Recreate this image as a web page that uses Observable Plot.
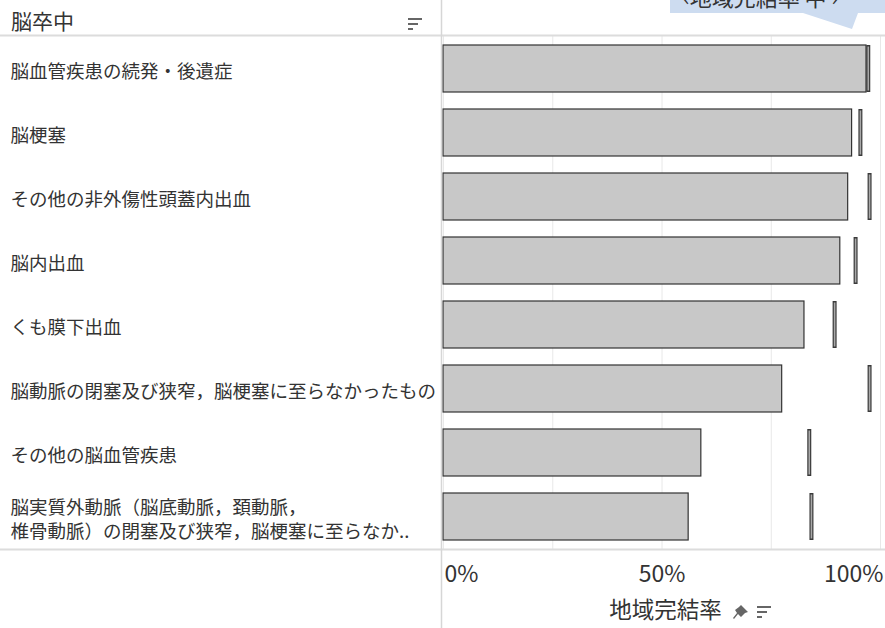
<!DOCTYPE html>
<html>
<head>
<meta charset="utf-8">
<script src="https://cdn.jsdelivr.net/npm/d3@7"></script>
<script src="https://cdn.jsdelivr.net/npm/@observablehq/plot@0.6"></script>
<style>
  html, body { margin: 0; padding: 0; background: #fff; }
  #chart { width: 885px; height: 628px; overflow: hidden; }
</style>
</head>
<body>
<div id="chart"></div>
<script>
const categories = [
  "脳血管疾患の続発・後遺症",
  "脳梗塞",
  "その他の非外傷性頭蓋内出血",
  "脳内出血",
  "くも膜下出血",
  "脳動脈の閉塞及び狭窄，脳梗塞に至らなかったもの",
  "その他の脳血管疾患",
  "脳実質外動脈（脳底動脈，頚動脈，\n椎骨動脈）の閉塞及び狭窄，脳梗塞に至らなか.."
];
const completionRate = [96.8, 93.5, 92.6, 90.8, 82.6, 77.5, 59.0, 56.1];
const referenceRate = [97.2, 95.4, 97.5, 94.3, 89.5, 97.5, 83.7, 84.2];
const xTicks = [0, 50, 100];
const gridTicks = [0, 25, 50, 75, 100];
const headerTitle = "脳卒中";
const axisTitle = "地域完結率";
const tooltipText = "‹地域完結率 中 ›";

const data = categories.map((name, i) => ({name, v: completionRate[i], t: referenceRate[i]}));
const FONT = "'Noto Sans CJK JP', 'Noto Sans', sans-serif";

const chart = Plot.plot({
  width: 885,
  height: 628,
  marginLeft: 443,
  marginRight: 5,
  marginTop: 35,
  marginBottom: 79,
  style: {fontFamily: FONT, color: "#333", background: "#fff"},
  x: {domain: [0, 100], axis: null},
  y: {domain: categories, axis: null, paddingInner: 0.27, paddingOuter: 0.135},
  marks: [
    Plot.gridX(gridTicks, {stroke: "#e8e8e8", strokeOpacity: 1}),
    Plot.barX(data, {x: "v", y: "name", fill: "#c8c8c8", stroke: "#333", strokeWidth: 1.2}),
    Plot.tickX(data, {x: "t", y: "name", stroke: "#3a3a3a", strokeWidth: 4}),
    Plot.tickX(data, {x: "t", y: "name", stroke: "#a8a8a8", strokeWidth: 1.6, insetTop: 1.5, insetBottom: 1.5}),
    Plot.text(data, {y: "name", text: "name", frameAnchor: "left", dx: -433, dy: 1, textAnchor: "start",
      fontSize: 18.5, lineHeight: 1.35, fill: "#333"}),
    Plot.axisX([xTicks[0]], {tickSize: 0, tickPadding: 16, textAnchor: "start", dx: 1, fontSize: 23,
      tickFormat: d => d + "%", fill: "#333", label: null}),
    Plot.axisX([xTicks[1]], {tickSize: 0, tickPadding: 16, fontSize: 23,
      tickFormat: d => d + "%", fill: "#333", label: null}),
    Plot.axisX([xTicks[2]], {tickSize: 0, tickPadding: 16, textAnchor: "end", dx: 3, fontSize: 23,
      tickFormat: d => d + "%", fill: "#333", label: null}),
    Plot.text([axisTitle], {x: 50, frameAnchor: "bottom", dy: 68, dx: 3.5, text: d => d, fontSize: 22.5, fill: "#333"})
  ]
});

document.getElementById("chart").appendChild(chart);

// Decorations (panel dividers, header, icons, tooltip callout)
const svg = d3.select(chart);
const deco = svg.append("g").attr("text-anchor", "start");
deco.append("line").attr("x1", 0).attr("x2", 885).attr("y1", 35.5).attr("y2", 35.5).attr("stroke", "#dcdcdc").attr("stroke-width", 2);
deco.append("line").attr("x1", 0).attr("x2", 885).attr("y1", 549.5).attr("y2", 549.5).attr("stroke", "#dcdcdc").attr("stroke-width", 2);
deco.append("line").attr("x1", 441.5).attr("x2", 441.5).attr("y1", 0).attr("y2", 628).attr("stroke", "#d6d6d6").attr("stroke-width", 1.5);

deco.append("text").attr("x", 11).attr("y", 22).attr("dy", "0.35em").attr("text-anchor", "start")
  .attr("font-size", 21).attr("font-family", FONT).attr("fill", "#333").text(headerTitle);

function sortIcon(x, y) {
  [[14, 0], [10, 5], [5, 10]].forEach(([w, dy]) => {
    deco.append("line").attr("x1", x).attr("x2", x + w).attr("y1", y + dy).attr("y2", y + dy)
      .attr("stroke", "#666").attr("stroke-width", 2);
  });
}
sortIcon(408, 19);
sortIcon(757, 607);

// pin icon
deco.append("path")
  .attr("d", "M741,605 L748,612 L745,613 L741,617 L738,614 L734,619 L733,618 L737,613 L735,610 L739,607 Z")
  .attr("fill", "#666");

// tooltip callout
deco.append("path")
  .attr("d", "M670,-2 L886,-2 L886,13 L858,13 L852,29 L803,13 L670,13 Z")
  .attr("fill", "#cddcf0");
deco.append("text").attr("x", 683).attr("y", 6).attr("text-anchor", "start").attr("font-size", 22).attr("font-family", FONT)
  .attr("fill", "#333").text(tooltipText);
</script>
</body>
</html>
